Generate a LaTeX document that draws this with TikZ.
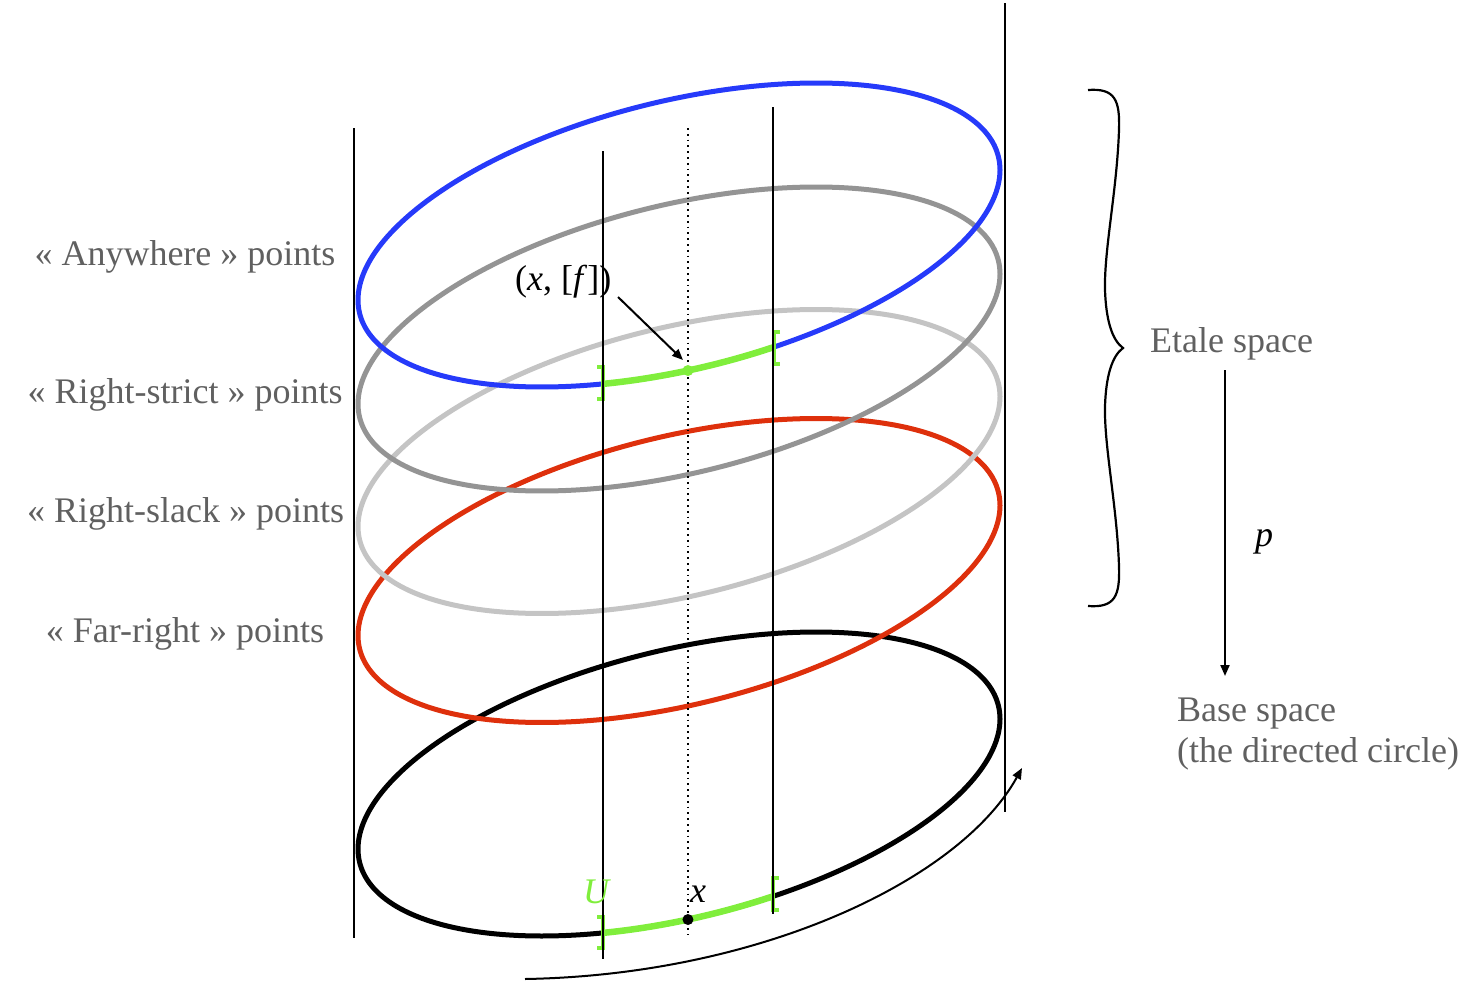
\documentclass[tikz,border=0pt]{standalone}
\usepackage{fontspec}
\setmainfont{Liberation Serif}
\usetikzlibrary{arrows.meta}
\definecolor{ringblue}{RGB}{38,58,250}
\definecolor{ringgray}{RGB}{148,148,148}
\definecolor{ringlight}{RGB}{196,196,196}
\definecolor{ringred}{RGB}{222,48,12}
\definecolor{opengreen}{RGB}{128,238,60}
\definecolor{labelgray}{RGB}{96,96,96}
\newcommand\ringat[2]{\draw[ring,#1] plot[smooth cycle, domain=0:357, samples=120] ({679+321*cos(\x)},{#2-65*cos(\x)+137.4*sin(\x)});}
\newcommand\openarc[1]{\draw[greenarc] plot[smooth, domain=73:103.7, samples=24] ({679+321*cos(\x)},{#1-65*cos(\x)+137.4*sin(\x)});}
\begin{document}
\begin{tikzpicture}[x=1pt,y=-1pt,
  ring/.style={line width=5pt},
  greenarc/.style={opengreen,line width=6.5pt},
  bracketline/.style={opengreen,line width=3.5pt},
  fibre/.style={black,line width=2pt},
  outerline/.style={black,line width=2.4pt},
  dottedfibre/.style={black,line width=1.8pt,dash pattern=on 1.8pt off 4pt},
  sidelabel/.style={labelgray,inner sep=0pt,font=\fontsize{36}{41}\selectfont},
  mathlabel/.style={black,inner sep=0pt,font=\fontsize{36}{41}\selectfont},
  thinarrow/.style={black,line width=2pt,-{Triangle[length=11pt,width=9pt]}},
  bracestyle/.style={black,line width=2.2pt}]
\useasboundingbox (0,0) rectangle (1472,1001);

% rings (fibres of the etale space and the base circle)
\ringat{black}{784}
\ringat{ringred}{570.5}
\ringat{ringlight}{461.5}
\ringat{ringgray}{339}
\ringat{ringblue}{235}

% open set U and its lift
\openarc{235}
\openarc{784}
\draw[bracketline] (597,367) -- (603,367) -- (603,399) -- (597,399);
\draw[bracketline] (780,332) -- (774,332) -- (774,364) -- (780,364);
\draw[bracketline] (597,917) -- (603,917) -- (603,948) -- (597,948);
\draw[bracketline] (779,878) -- (773,878) -- (773,910) -- (779,910);

% vertical lines
\coordinate (l1t) at (354,128);  \coordinate (l1b) at (354,938);
\coordinate (l2t) at (1005,3);   \coordinate (l2b) at (1005,812);
\coordinate (l3t) at (603,151);  \coordinate (l3b) at (603,959);
\coordinate (l4t) at (773,107);  \coordinate (l4b) at (773,914);
\coordinate (dft) at (688,128);  \coordinate (dfb) at (688,935);
\draw[outerline] (l1t) -- (l1b);
\draw[outerline] (l2t) -- (l2b);
\draw[fibre] (l3t) -- (l3b);
\draw[fibre] (l4t) -- (l4b);
\draw[dottedfibre] (dft) -- (dfb);

% points
\coordinate (germ) at ({679+321*cos(88.4)},{235-65*cos(88.4)+137.4*sin(88.4)});
\coordinate (xpt) at ({679+321*cos(88.4)},{784-65*cos(88.4)+137.4*sin(88.4)});
\fill[opengreen] (germ) circle (5.5);
\fill[black] (xpt) circle (5.5);

% labels on the left
\node[sidelabel,anchor=base] (anyw) at (185,265) {« Anywhere » points};
\node[sidelabel,anchor=base] (rstrict) at (185,403) {« Right-strict » points};
\node[sidelabel,anchor=base] (rslack) at (185.5,522) {« Right-slack » points};
\node[sidelabel,anchor=base] (farr) at (185,642) {« Far-right » points};

% germ label and arrow
\node[mathlabel,anchor=base west] (flabel) at (515,290) {(\textit{x}, [\textit{f}])};
\coordinate (fa) at (618,297);
\coordinate (fb) at (683,360);
\draw[thinarrow] (fa) -- (fb);

% base labels
\node[mathlabel,anchor=base west] (xlabel) at (690,902) {\textit{x}};
\node[mathlabel,anchor=base west,text=opengreen] (ulabel) at (583,903) {\textit{U}};

% direction arrow of the circle
\coordinate (ca) at (525,979);
\coordinate (cb) at (1022,768);
\draw[thinarrow] (ca) .. controls (760,975) and (960,880) .. (cb);

% brace
\draw[bracestyle] (1088,90) .. controls (1115,88) and (1120,100) .. (1119,130)
  .. controls (1117,190) and (1104,250) .. (1105,290)
  .. controls (1106,320) and (1112,340) .. (1123,348)
  .. controls (1112,356) and (1106,376) .. (1105,406)
  .. controls (1104,446) and (1117,506) .. (1119,566)
  .. controls (1120,596) and (1115,608) .. (1088,606);

\node[sidelabel,anchor=base west] (etale) at (1150,352) {Etale space};
\coordinate (pa) at (1225,370);
\coordinate (pb) at (1225,676);
\draw[thinarrow] (pa) -- (pb);
\node[mathlabel,anchor=base west] (plabel) at (1255,546) {\textit{p}};
\node[sidelabel,anchor=base west,align=left] (base) at (1177,762) {Base space\\(the directed circle)};
\end{tikzpicture}
\end{document}
